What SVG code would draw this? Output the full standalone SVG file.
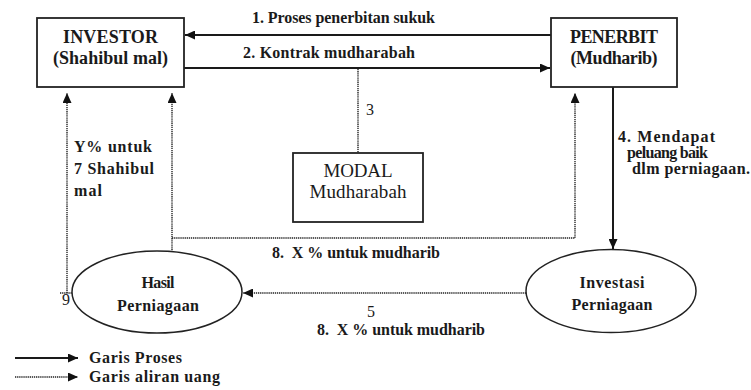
<svg xmlns="http://www.w3.org/2000/svg" width="751" height="390" viewBox="0 0 751 390">
<style>
text{font-family:"Liberation Serif","Times New Roman",serif;fill:#1a1a1a}
.b{font-weight:bold}
.box{fill:#fff;stroke:#222;stroke-width:1.8}
.ell{fill:#fff;stroke:#222;stroke-width:1.5}
.solid{fill:none;stroke:#1a1a1a;stroke-width:2}
.dot{fill:none;stroke:#222;stroke-width:1.4;stroke-dasharray:1.3 0.8}
.lbl{font-size:16px}
</style>
<defs>
<marker id="ah" markerUnits="userSpaceOnUse" markerWidth="11" markerHeight="9" refX="10" refY="4.5" orient="auto">
<path d="M0,0 L10,4.5 L0,9 z" fill="#111"/>
</marker>
</defs>
<rect width="751" height="390" fill="#fff"/>
<g id="connectors">
<line class="solid" x1="551" y1="35" x2="185" y2="35" marker-end="url(#ah)"/>
<line class="solid" x1="184" y1="68" x2="550" y2="68" marker-end="url(#ah)"/>
<line class="dot" x1="358" y1="69" x2="358" y2="153"/>
<line class="solid" x1="613" y1="87" x2="613" y2="249" marker-end="url(#ah)"/>
<line class="dot" x1="526" y1="293" x2="243" y2="293" marker-end="url(#ah)"/>
<line class="dot" x1="172" y1="252" x2="172" y2="93" marker-end="url(#ah)"/>
<polyline class="dot" points="172,238 575,238 575,93" marker-end="url(#ah)"/>
<line class="dot" x1="67" y1="293" x2="67" y2="93" marker-end="url(#ah)"/>
<line class="dot" x1="60" y1="293" x2="72" y2="293"/>
<text class="lbl b" x="252" y="23" textLength="183">1. Proses penerbitan sukuk</text>
<text class="lbl b" x="243" y="58" textLength="172">2. Kontrak mudharabah</text>
<text class="lbl" x="366" y="115">3</text>
<text class="lbl b" x="618" y="142" textLength="97">4. Mendapat</text>
<text class="lbl b" x="627" y="158" textLength="81">peluang baik</text>
<text class="lbl b" x="632" y="174" textLength="118">dlm perniagaan.</text>
<text class="lbl" x="367" y="317">5</text>
<text class="lbl b" x="74" y="152" textLength="78">Y% untuk</text>
<text class="lbl b" x="74" y="174" textLength="80">7 Shahibul</text>
<text class="lbl b" x="74" y="196" textLength="28">mal</text>
<text class="lbl b" x="272" y="258" textLength="168" xml:space="preserve">8.  X % untuk mudharib</text>
<text class="lbl b" x="317" y="335" textLength="168" xml:space="preserve">8.  X % untuk mudharib</text>
<text class="lbl" x="62" y="305">9</text>
</g>
<g id="investor">
<rect class="box" x="37" y="18" width="147" height="69"/>
<text class="b" x="110.5" y="43" font-size="18" text-anchor="middle" textLength="95">INVESTOR</text>
<text class="b" x="110.5" y="64" font-size="18" text-anchor="middle" textLength="115">(Shahibul mal)</text>
</g>
<g id="penerbit">
<rect class="box" x="551" y="18" width="126" height="69"/>
<text class="b" x="614" y="43" font-size="18" text-anchor="middle" textLength="88">PENERBIT</text>
<text class="b" x="614" y="64" font-size="18" text-anchor="middle" textLength="87">(Mudharib)</text>
</g>
<g id="modal">
<rect class="box" x="293" y="153" width="130" height="69"/>
<text x="358" y="177" font-size="19" text-anchor="middle" textLength="69">MODAL</text>
<text x="358" y="198" font-size="19" text-anchor="middle" textLength="97">Mudharabah</text>
</g>
<g id="hasil">
<ellipse class="ell" cx="157" cy="292" rx="85" ry="41"/>
<text class="b" x="158" y="288" font-size="16" text-anchor="middle" textLength="33">Hasil</text>
<text class="b" x="158" y="311" font-size="16" text-anchor="middle" textLength="82">Perniagaan</text>
</g>
<g id="investasi">
<ellipse class="ell" cx="611" cy="291" rx="85" ry="41.5"/>
<text class="b" x="612" y="288" font-size="16" text-anchor="middle" textLength="65">Investasi</text>
<text class="b" x="612" y="310" font-size="16" text-anchor="middle" textLength="81">Perniagaan</text>
</g>
<g id="legend">
<line class="solid" x1="15" y1="358" x2="78" y2="358" marker-end="url(#ah)"/>
<line class="dot" x1="15" y1="377" x2="78" y2="377" marker-end="url(#ah)"/>
<text class="lbl b" x="89" y="363" textLength="93">Garis Proses</text>
<text class="lbl b" x="89" y="382" textLength="131">Garis aliran uang</text>
</g>
</svg>
